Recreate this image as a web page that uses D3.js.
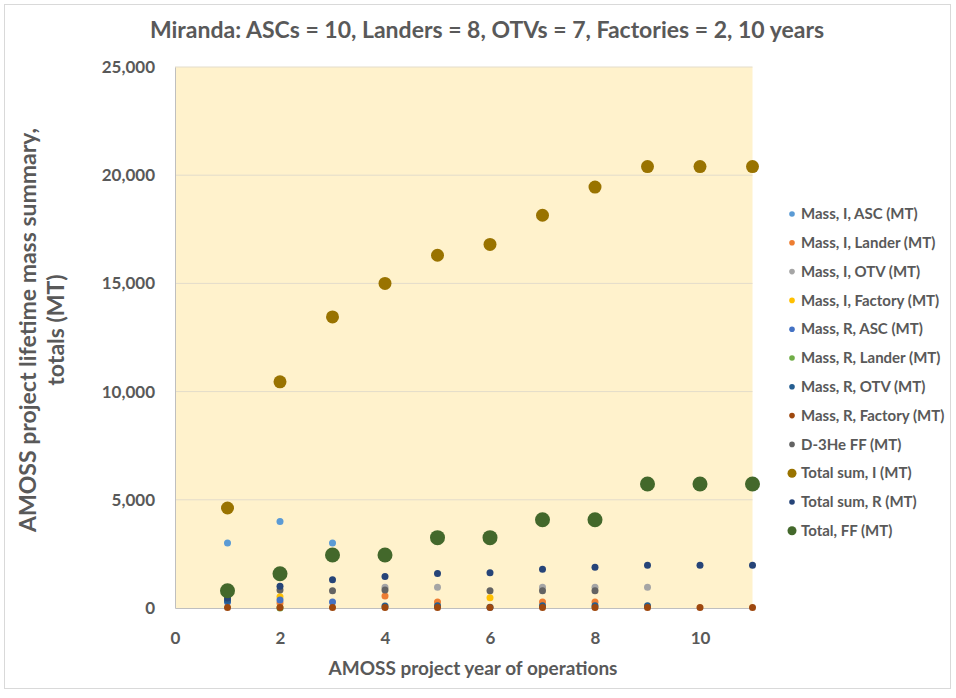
<!DOCTYPE html>
<html>
<head>
<meta charset="utf-8">
<script src="https://cdn.jsdelivr.net/npm/d3@7"></script>
<style>
  body { margin: 0; background: #fff; }
  text { font-family: Lato, "Open Sans", sans-serif; font-weight: bold; fill: #595959; }
</style>
</head>
<body>
<svg id="chart" width="956" height="698"></svg>
<script>
// values, one entry per year (null = not shown)
const years = [1, 2, 3, 4, 5, 6, 7, 8, 9, 10, 11];
const massIASC = [3000, 4000, 3000, null, null, null, null, null, null, null, null];
const massILander = [null, 230, null, 550, 280, null, 280, 280, null, null, null];
const massIOTV = [null, null, null, 960, 960, null, 960, 960, 960, null, null];
const massIFactory = [null, 520, null, null, null, 470, null, null, null, null, null];
const massRASC = [280, 370, 280, null, null, null, null, null, null, null, null];
const massRLander = [null, 0, null, null, null, null, null, null, null, null, null];
const massROTV = [350, null, null, 90, 100, 30, 100, 100, 100, null, null];
const massRFactory = [20, 20, 20, 20, 20, 20, 20, 20, 20, 20, 20];
const d3HeFF = [null, 830, 800, 830, null, 800, 800, 800, null, null, null];
const totalI = [4620, 10450, 13450, 15000, 16300, 16800, 18150, 19450, 20400, 20400, 20400];
const totalR = [460, 1000, 1300, 1450, 1590, 1630, 1790, 1880, 1970, 1970, 1970];
const totalFF = [800, 1580, 2450, 2450, 3250, 3250, 4080, 4080, 5730, 5730, 5730];

const seriesNames = ['Mass, I, ASC (MT)', 'Mass, I, Lander (MT)', 'Mass, I, OTV (MT)', 'Mass, I, Factory (MT)',
  'Mass, R, ASC (MT)', 'Mass, R, Lander (MT)', 'Mass, R, OTV (MT)', 'Mass, R, Factory (MT)',
  'D-3He FF (MT)', 'Total sum, I (MT)', 'Total sum, R (MT)', 'Total, FF (MT)'];
const seriesValues = [massIASC, massILander, massIOTV, massIFactory, massRASC, massRLander,
  massROTV, massRFactory, d3HeFF, totalI, totalR, totalFF];
const colors = ['#5B9BD5', '#ED7D31', '#A5A5A5', '#FFC000', '#4472C4', '#70AD47',
  '#255E91', '#9E480E', '#636363', '#997300', '#264478', '#43682B'];
const radii = [3.5, 3.5, 3.5, 3.5, 3.5, 3.5, 3.5, 3.5, 3.5, 6.5, 3.5, 7.5];
const legendRadii = [2.8, 2.8, 2.8, 2.8, 2.8, 2.8, 2.8, 2.8, 2.8, 4.5, 2.8, 4.5];
const xTicks = [0, 2, 4, 6, 8, 10];
const yTicks = [0, 5000, 10000, 15000, 20000, 25000];

const svg = d3.select('#chart');
const plot = { left: 175, right: 752.5, top: 67, bottom: 608 };

const x = d3.scaleLinear().domain([0, 11]).range([plot.left, plot.right]);
const y = d3.scaleLinear().domain([0, 25000]).range([plot.bottom, plot.top]);

// chart border
svg.append('rect').attr('x', 4.5).attr('y', 4.5).attr('width', 946).attr('height', 684)
  .attr('fill', 'none').attr('stroke', '#D9D9D9');

// plot background
svg.append('rect').attr('x', plot.left).attr('y', plot.top)
  .attr('width', plot.right - plot.left).attr('height', plot.bottom - plot.top)
  .attr('fill', '#FFF2CC');

// gridlines
svg.append('g').selectAll('line').data(yTicks.slice(1)).enter().append('line')
  .attr('x1', plot.left).attr('x2', plot.right)
  .attr('y1', d => y(d)).attr('y2', d => y(d))
  .attr('stroke', '#E3DCCB').attr('stroke-width', 1);

// axes
const yAxis = svg.append('g').attr('transform', `translate(${plot.left},0)`)
  .call(d3.axisLeft(y).tickValues(yTicks).tickSize(0).tickPadding(20).tickFormat(d3.format(',')));
const xAxis = svg.append('g').attr('transform', `translate(0,${plot.bottom})`)
  .call(d3.axisBottom(x).tickValues(xTicks).tickSize(0).tickPadding(24));
[yAxis, xAxis].forEach(a => {
  a.select('.domain').attr('stroke', '#BFBFBF');
  a.selectAll('text').style('font-size', '17px').style('font-family', 'Lato, sans-serif').attr('fill', '#595959');
});

// points
seriesValues.forEach((vals, i) => {
  const pts = years.map((yr, j) => ({ yr, v: vals[j] })).filter(d => d.v !== null);
  svg.append('g').selectAll('circle').data(pts).enter().append('circle')
    .attr('cx', d => x(d.yr)).attr('cy', d => y(d.v)).attr('r', radii[i])
    .attr('fill', colors[i]);
});

// title
svg.append('text').attr('x', 487).attr('y', 38).attr('text-anchor', 'middle')
  .style('font-size', '23px').text('Miranda: ASCs = 10, Landers = 8, OTVs = 7, Factories = 2, 10 years');

// axis titles
svg.append('text').attr('x', 473).attr('y', 675).attr('text-anchor', 'middle')
  .style('font-size', '19px').text('AMOSS project year of operations');
const yt = svg.append('text').attr('transform', 'translate(0,330) rotate(-90)')
  .attr('text-anchor', 'middle').style('font-size', '23px');
yt.append('tspan').attr('x', 0).attr('y', 36).text('AMOSS project lifetime mass summary,');
yt.append('tspan').attr('x', 0).attr('y', 64).text('totals (MT)');

// legend
const legend = svg.append('g').selectAll('g').data(seriesNames).enter().append('g')
  .attr('transform', (d, i) => `translate(792,${214 + i * 28.8})`);
legend.append('circle').attr('r', (d, i) => legendRadii[i]).attr('fill', (d, i) => colors[i]);
legend.append('text').attr('x', 9).attr('dy', '0.35em').style('font-size', '15px').text(d => d);
</script>
</body>
</html>
